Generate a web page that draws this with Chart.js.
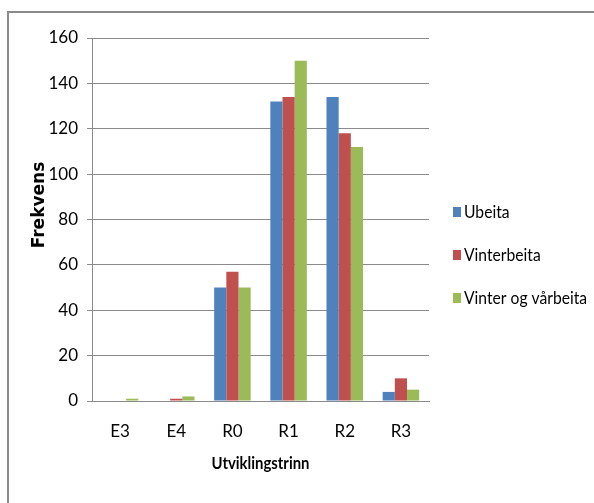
<!DOCTYPE html>
<html>
<head>
<meta charset="utf-8">
<script src="https://cdn.jsdelivr.net/npm/chart.js@4"></script>
<style>
  html, body { margin:0; padding:0; background:#fff; }
  #frame { position:absolute; left:7px; top:11px; width:600px; height:500px;
           border-top:2px solid #8a8a8a; border-left:2px solid #8a8a8a; box-sizing:border-box; }
  #wrap { position:absolute; left:0; top:0; width:594px; height:503px; }
</style>
</head>
<body>
<div id="frame"></div>
<div id="wrap"><canvas id="c" width="594" height="503"></canvas></div>
<script>
const categories = ["E3", "E4", "R0", "R1", "R2", "R3"];
const seriesNames = ["Ubeita", "Vinterbeita", "Vinter og vårbeita"];
const ubeita = [0, 0, 50, 132, 134, 4];
const vinterbeita = [0, 1, 57, 134, 118, 10];
const vinterOgVarbeita = [1, 2, 50, 150, 112, 5];
const yTicks = [0, 20, 40, 60, 80, 100, 120, 140, 160];
const xTitle = "Utviklingstrinn";
const yTitle = "Frekvens";

const colors = ["#4F81BD", "#C0504D", "#9BBB59"];
const FONT = "Lato, 'Open Sans', sans-serif";

function squeezedText(ctx, text, x, y, targetWidth, align) {
  const w = ctx.measureText(text).width;
  const k = Math.min(1, targetWidth / w);
  ctx.save();
  ctx.translate(x, y);
  ctx.scale(k, 1);
  ctx.textAlign = align;
  ctx.fillText(text, 0, 0);
  ctx.restore();
}

const annotPlugin = {
  id: 'sideLegend',
  afterDraw(chart) {
    const ctx = chart.ctx;
    ctx.save();
    ctx.textBaseline = 'middle';
    ctx.font = "18px " + FONT;
    const ys = [212, 255, 298];
    const scaleK = 0.87;
    chart.data.datasets.forEach((ds, i) => {
      ctx.fillStyle = ds.backgroundColor;
      ctx.fillRect(453, ys[i] - 5, 8, 10);
      ctx.fillStyle = '#000';
      ctx.save();
      ctx.translate(464, ys[i]);
      ctx.scale(scaleK, 1);
      ctx.textAlign = 'left';
      ctx.fillText(ds.label, 0, 0);
      ctx.restore();
    });
    // x axis title
    ctx.font = "bold 17px " + FONT;
    ctx.fillStyle = '#000';
    const xa = chart.scales.x;
    squeezedText(ctx, xTitle, (xa.left + xa.right) / 2, 464, 98, 'center');
    // y axis title
    ctx.translate(40, 205);
    ctx.rotate(-Math.PI / 2);
    ctx.font = "bold 17px 'DejaVu Sans', sans-serif";
    ctx.textAlign = 'center';
    ctx.fillText(yTitle, 0, 0);
    ctx.restore();
  }
};

new Chart(document.getElementById('c'), {
  type: 'bar',
  data: {
    labels: categories,
    datasets: [
      { label: seriesNames[0], data: ubeita, backgroundColor: colors[0] },
      { label: seriesNames[1], data: vinterbeita, backgroundColor: colors[1] },
      { label: seriesNames[2], data: vinterOgVarbeita, backgroundColor: colors[2] }
    ]
  },
  options: {
    responsive: false,
    animation: false,
    devicePixelRatio: 1,
    layout: { padding: { left: 30, top: 38, right: 165, bottom: 29 } },
    datasets: { bar: { categoryPercentage: 0.65, barPercentage: 1.0, borderWidth: 0 } },
    plugins: { legend: { display: false }, tooltip: { enabled: false } },
    scales: {
      x: {
        afterFit(s) { s.height = 73; },
        grid: { display: true, drawOnChartArea: false, drawTicks: false, color: '#8a8a8a', offset: true },
        border: { display: true, color: '#8a8a8a', width: 1 },
        ticks: { color: '#000', font: { family: FONT, size: 17 }, padding: 20 },
        title: { display: false, text: xTitle }
      },
      y: {
        min: 0, max: 160,
        afterFit(s) { s.width = 62; },
        afterBuildTicks(s) { s.ticks = yTicks.map(v => ({ value: v })); },
        grid: { color: '#8a8a8a', tickLength: 5, lineWidth: 1 },
        border: { display: true, color: '#8a8a8a', width: 1 },
        ticks: { color: '#000', font: { family: FONT, size: 17 }, padding: 9, stepSize: 20 },
        title: { display: false, text: yTitle }
      }
    }
  },
  plugins: [annotPlugin]
});
</script>
</body>
</html>
